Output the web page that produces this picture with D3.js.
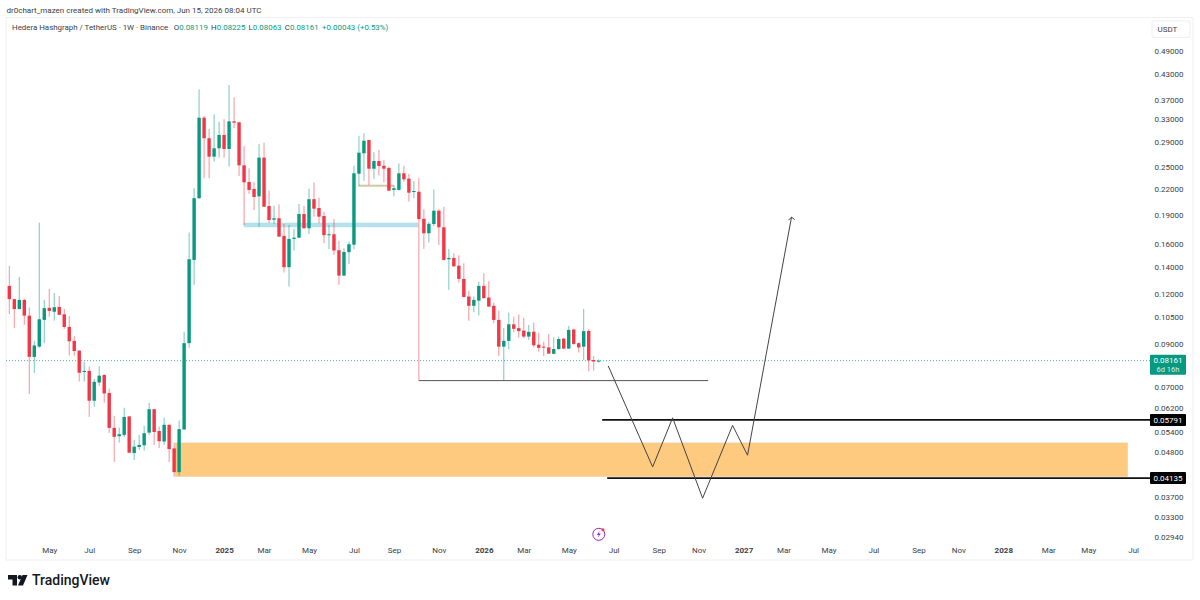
<!DOCTYPE html>
<html>
<head>
<meta charset="utf-8">
<script src="https://cdn.jsdelivr.net/npm/d3@7"></script>
<style>
body { margin: 0; background: #fff; }
svg { display: block; font-family: Roboto, sans-serif; }
</style>
</head>
<body>
<svg width="1200" height="600"></svg>
<script>
// weekly candles, first one is the week of Mar 11 2024
const opens = [.1258,.1165,.1100,.1160,.1059,.0834,.0885,.1033,.1108,.1083,.1114,.1067,.0992,.0915,.0865,.0764,.0769,.0647,.0719,.0751,.0677,.0553,.0527,.0531,.0591,.0478,.0495,.0500,.0538,.0616,.0543,.0511,.0563,.0491,.0428,.0548,.0903,.1462,.2090,.3331,.2957,.2658,.2790,.3014,.2779,.3261,.3243,.2528,.2295,.2205,.2112,.2643,.1998,.1845,.1861,.1680,.1402,.1651,.1663,.1907,.1756,.2078,.1975,.1885,.1690,.1696,.1546,.1335,.1529,.1597,.2408,.2711,.2927,.2479,.2592,.2522,.2490,.2192,.2192,.2414,.2340,.2167,.2170,.1855,.1706,.1800,.1944,.1766,.1468,.1479,.1414,.1310,.1183,.1121,.1155,.1258,.1176,.1121,.1033,.0885,.0915,.1007,.0985,.0971,.0938,.0965,.0895,.0885,.0881,.0849,.0873,.0927,.0875,.0977,.0903,.0885,.0969,.0819,.08119];
const highs = [.1412,.1168,.1325,.1168,.1110,.0915,.1813,.1160,.1236,.1208,.1187,.1101,.1057,.0942,.0865,.0810,.0788,.0734,.0791,.0755,.0693,.0593,.0554,.0621,.0591,.0516,.0531,.0560,.0639,.0617,.0557,.0586,.0564,.0507,.0577,.0965,.1712,.2214,.3926,.3364,.3120,.3397,.3254,.3300,.4024,.3747,.3254,.2827,.2485,.2299,.2860,.2882,.2183,.1998,.2017,.1800,.1790,.1750,.2021,.1998,.2205,.2291,.2097,.1933,.1790,.1852,.1632,.1564,.1625,.2522,.2997,.3043,.2927,.2727,.2763,.2607,.2508,.2247,.2558,.2522,.2405,.2309,.2346,.1960,.1824,.2200,.1960,.1989,.1558,.1520,.1502,.1434,.1222,.1183,.1290,.1354,.1292,.1142,.1090,.0986,.1077,.1053,.1067,.1045,.1004,.1017,.0960,.0911,.0953,.0934,.0938,.0932,.0998,.0982,.0906,.1101,.0979,.0838,.08225];
const lows = [.1069,.0986,.1098,.1004,.0673,.0760,.0879,.0904,.1051,.1029,.1063,.0981,.0840,.0840,.0723,.0723,.0589,.0625,.0705,.0640,.0537,.0454,.0508,.0524,.0478,.0459,.0487,.0485,.0531,.0501,.0492,.0501,.0454,.0417,.0419,.0546,.0879,.1265,.2081,.2346,.2346,.2581,.2643,.2643,.2508,.3133,.2377,.1790,.2142,.1952,.1772,.1986,.1810,.1800,.1670,.1359,.1253,.1544,.1658,.1753,.1699,.1878,.1807,.1610,.1556,.1505,.1265,.1333,.1429,.1556,.2243,.2313,.2256,.2335,.2382,.2291,.2179,.2112,.2183,.2300,.2048,.2090,.0727,.1558,.1616,.1779,.1594,.1460,.1229,.1402,.1282,.1178,.1028,.1081,.1061,.1168,.1114,.1013,.0838,.0727,.0871,.0962,.0932,.0928,.0920,.0881,.0860,.0838,.0849,.0847,.0868,.0871,.0873,.0894,.0855,.0819,.0767,.0770,.08063];
const closes = [.1165,.1100,.1160,.1059,.0834,.0891,.1037,.1106,.1088,.1112,.1064,.0992,.0913,.0863,.0761,.0769,.0647,.0722,.0748,.0675,.0553,.0525,.0533,.0589,.0479,.0496,.0501,.0536,.0616,.0540,.0512,.0563,.0489,.0428,.0549,.0903,.1468,.2090,.3331,.2957,.2658,.2790,.3014,.2779,.3261,.3235,.2528,.2291,.2192,.2105,.2643,.1989,.1842,.1861,.1673,.1402,.1651,.1663,.1907,.1756,.2078,.1967,.1878,.1687,.1696,.1544,.1335,.1531,.1601,.2414,.2720,.2915,.2479,.2592,.2518,.2479,.2183,.2214,.2414,.2331,.2158,.2179,.1852,.1706,.1802,.1944,.1766,.1462,.1479,.1409,.1310,.1180,.1121,.1160,.1258,.1172,.1116,.1033,.0885,.0915,.1007,.0981,.0968,.0938,.0964,.0892,.0879,.0881,.0850,.0873,.0925,.0875,.0975,.0899,.0881,.0968,.0817,.0812,.08161];

const priceTicks = [.49,.43,.37,.33,.29,.25,.22,.19,.16,.14,.12,.105,.09,.07,.062,.054,.048,.037,.033,.0294];
const weekTicks = [8,16,25,34,43,51,60,69,77,86,95,103,112,121,130,138,147,155,164,173,182,190,199,208,216,225];
const weekLabels = ["May","Jul","Sep","Nov","2025","Mar","May","Jul","Sep","Nov","2026","Mar","May","Jul","Sep","Nov","2027","Mar","May","Jul","Sep","Nov","2028","Mar","May","Jul"];

// drawings, in week index / price
const zoneWeeks = [33.2, 223.9];
const zonePrices = [.0507, .0417];
const blueWeeks = [47, 81.8];
const bluePrices = [.1810, .1770];
const tanWeeks = [70, 77];
const tanPrices = [.2256, .2238];
const pathWeeks = [119.9, 128.8, 132.8, 138.8, 144.8, 147.8, 156.6];
const pathPrices = [.0792, .0441, .0586, .0368, .0561, .0472, .1873];
const lowLineWeeks = [82, 139.9];
const lowLinePrice = .0727;
const levels = [{price: .05791, from: 118.7}, {price: .04135, from: 119.7}];
const lastPrice = .08161;

const green = "#089981";
const red = "#f23645";
const candles = opens.map((o, i) => ({i: i, o: o, h: highs[i], l: lows[i], c: closes[i]}));

const svg = d3.select("svg");
const frameLeft = 6, plotRight = 1151, frameTop = 17.5, frameBottom = 560, frameRight = 1193;

const x = d3.scaleLinear().domain([0, 118]).range([9.3, 598.7]);
const y = d3.scaleLog().domain([.0294, .49]).range([537, 51]);

// frame
svg.append("path")
	.attr("d", `M${frameLeft},${frameBottom}V${frameTop}H${frameRight}V${frameBottom}H${frameLeft}`)
	.attr("fill", "none")
	.attr("stroke", "#eeeff2");

// axes
const priceAxis = svg.append("g")
	.attr("transform", `translate(${plotRight}, 0)`)
	.call(d3.axisRight(y).tickValues(priceTicks).tickFormat(d3.format(".5f")).tickSize(0).tickPadding(3.5));
const timeAxis = svg.append("g")
	.attr("transform", `translate(0, 545)`)
	.call(d3.axisBottom(x).tickValues(weekTicks).tickFormat((d, i) => weekLabels[i]).tickSize(0).tickPadding(2));
svg.selectAll(".domain").remove();
priceAxis.selectAll("text").attr("fill", "#3a3e48").style("font-size", "8px").style("font-family", "Roboto");
timeAxis.selectAll("text").attr("fill", "#3a3e48").style("font-size", "8px").style("font-family", "Roboto")
	.style("font-weight", (d, i) => /^\d/.test(weekLabels[i]) ? 700 : 400);

// zones
function box(weeks, prices, fill, stroke) {
	svg.append("rect")
		.attr("x", x(weeks[0]))
		.attr("y", y(prices[0]))
		.attr("width", x(weeks[1]) - x(weeks[0]))
		.attr("height", y(prices[1]) - y(prices[0]))
		.attr("fill", fill)
		.attr("stroke", stroke)
		.attr("stroke-width", .6);
}
box(zoneWeeks, zonePrices, "#fdca80", "#e3d5bd");
box(blueWeeks, bluePrices, "#b5e1ea", "#a9dce6");
box(tanWeeks, tanPrices, "#d3c6ab", "#d3c6ab");

// last price line
svg.append("line")
	.attr("x1", frameLeft).attr("x2", plotRight)
	.attr("y1", y(lastPrice)).attr("y2", y(lastPrice))
	.attr("stroke", green)
	.attr("stroke-opacity", .7)
	.attr("stroke-dasharray", "1,2");

// candles
const candle = svg.selectAll(".candle").data(candles).enter().append("g").attr("class", "candle");
candle.append("line")
	.attr("x1", d => x(d.i)).attr("x2", d => x(d.i))
	.attr("y1", d => y(d.h)).attr("y2", d => y(d.l))
	.attr("stroke", d => d.c >= d.o ? green : red)
	.attr("stroke-opacity", .55);
candle.append("rect")
	.attr("x", d => x(d.i) - 1.7)
	.attr("width", 3.4)
	.attr("y", d => y(Math.max(d.o, d.c)))
	.attr("height", d => Math.max(1, Math.abs(y(d.o) - y(d.c))))
	.attr("fill", d => d.c >= d.o ? green : red);

// support line under the wicks
svg.append("line")
	.attr("x1", x(lowLineWeeks[0])).attr("x2", x(lowLineWeeks[1]))
	.attr("y1", y(lowLinePrice)).attr("y2", y(lowLinePrice))
	.attr("stroke", "#555")
	.attr("stroke-width", 1);

// levels
svg.selectAll(".level").data(levels).enter().append("line")
	.attr("class", "level")
	.attr("x1", d => x(d.from)).attr("x2", plotRight)
	.attr("y1", d => y(d.price)).attr("y2", d => y(d.price))
	.attr("stroke", "#111")
	.attr("stroke-width", 1.8);

// projected path
const pathLine = d3.line().x(d => x(d[0])).y(d => y(d[1]));
const pathPoints = pathWeeks.map((w, i) => [w, pathPrices[i]]);
svg.append("path")
	.attr("d", pathLine(pathPoints))
	.attr("fill", "none")
	.attr("stroke", "#444")
	.attr("stroke-width", 1);
const tipX = x(pathWeeks[pathWeeks.length - 1]), tipY = y(pathPrices[pathPrices.length - 1]);
svg.append("path")
	.attr("d", `M${tipX - 3},${tipY + 3}L${tipX},${tipY}L${tipX + 3.2},${tipY + 2.5}`)
	.attr("fill", "none")
	.attr("stroke", "#444");

// price labels
function priceTag(price, fill, sub) {
	const h = sub ? 20 : 12;
	const cy = y(price);
	const tagTop = sub ? cy - 6 : cy - h / 2;
	svg.append("rect")
		.attr("x", 1150).attr("y", tagTop)
		.attr("width", 36).attr("height", h)
		.attr("rx", 1)
		.attr("fill", fill);
	svg.append("text")
		.attr("x", 1168).attr("y", tagTop + 8.8)
		.attr("text-anchor", "middle")
		.attr("fill", "#fff")
		.style("font-size", "8px")
		.text(d3.format(".5f")(price));
	if (sub) {
		svg.append("text")
			.attr("x", 1168).attr("y", tagTop + 17)
			.attr("text-anchor", "middle")
			.attr("fill", "#d5f0ea")
			.style("font-size", "7.5px")
			.text(sub);
	}
}
priceTag(lastPrice, green, "6d 16h");
levels.forEach(l => priceTag(l.price, "#000"));

// currency box
svg.append("rect")
	.attr("x", 1152).attr("y", 21)
	.attr("width", 38).attr("height", 16.5)
	.attr("rx", 2)
	.attr("fill", "#fff")
	.attr("stroke", "#eeeff2");
svg.append("text")
	.attr("x", 1157.5).attr("y", 32)
	.attr("fill", "#3a3e48")
	.style("font-size", "8px")
	.text("USDT");

// header
svg.append("text")
	.attr("x", 6.5).attr("y", 13)
	.attr("fill", "#3a3e48")
	.style("font-size", "8px")
	.text("dr0chart_mazen created with TradingView.com, Jun 15, 2026 08:04 UTC");

const legend = svg.append("text")
	.attr("x", 12).attr("y", 30)
	.style("font-size", "7.9px")
	.attr("fill", green);
legend.append("tspan").attr("fill", "#3a3e48").text("Hedera Hashgraph / TetherUS · 1W · Binance");
[["O", "0.08119"], ["H", "0.08225"], ["L", "0.08063"], ["C", "0.08161"]].forEach((p, i) => {
	legend.append("tspan").attr("fill", "#3a3e48").attr("dx", i == 0 ? 5.5 : 3.2).text(p[0]);
	legend.append("tspan").text(p[1]);
});
legend.append("tspan").attr("dx", 3.5).text("+0.00043 (+0.53%)");

// lightning badge
const badge = svg.append("g").attr("transform", "translate(598.8, 534.3)");
badge.append("circle").attr("r", 6).attr("fill", "none").attr("stroke", "#9c27b0").attr("stroke-width", 1);
badge.append("path").attr("d", "M1,-3.5L-2,0.7H0L-1,3.5L2,-0.7H0Z").attr("fill", "#9c27b0");
badge.append("circle").attr("cx", 4.2).attr("cy", -4.6).attr("r", 1.5).attr("fill", "#f23645");

// logo
const logo = svg.append("g").attr("fill", "#131722");
logo.append("path").attr("d", "M8,575H17V585.5H12.5V579.5H8Z");
logo.append("circle").attr("cx", 19.8).attr("cy", 577.3).attr("r", 2.2);
logo.append("path").attr("d", "M22.5,575H27.5L23,585.5H18Z");
logo.append("text")
	.attr("x", 32).attr("y", 585)
	.style("font-size", "14px")
	.style("font-weight", 500)
	.text("TradingView");
</script>
</body>
</html>
